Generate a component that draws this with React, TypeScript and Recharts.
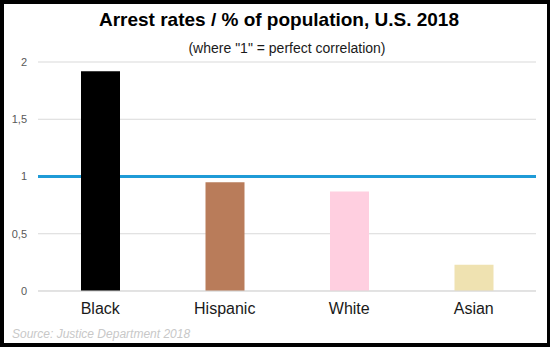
import { Bar, BarChart, CartesianGrid, Cell, ReferenceLine, XAxis, YAxis } from "recharts";

const groups = ["Black", "Hispanic", "White", "Asian"];
const ratios = [1.92, 0.95, 0.87, 0.23];
const barColors = ["#000000", "#b97c5a", "#ffcfe0", "#efe2b1"];
const yTicks = [0, 0.5, 1, 1.5, 2];

const rows = groups.map((group, i) => ({ group, ratio: ratios[i] }));

const font = '"Liberation Sans", Arial, sans-serif';

const commaDecimal = (v: number) => String(v).replace(".", ",");

export default function App() {
  return (
    <div style={{ position: "absolute", top: 0, left: 0, width: 550, height: 347, background: "#fff", fontFamily: font }}>
      <div
        style={{
          position: "absolute",
          top: 8,
          left: 0,
          width: 558,
          textAlign: "center",
          fontSize: 19,
          fontWeight: "bold",
          color: "#000",
          lineHeight: "24px"
        }}
      >
        Arrest rates / % of population, U.S. 2018
      </div>
      <div
        style={{
          position: "absolute",
          top: 38,
          left: 0,
          width: 574,
          textAlign: "center",
          fontSize: 14,
          color: "#1a1a1a",
          lineHeight: "20px"
        }}
      >
        (where "1" = perfect correlation)
      </div>
      <BarChart
        width={550}
        height={347}
        data={rows}
        margin={{ top: 62, right: 14, bottom: 0, left: 8 }}
        style={{ position: "absolute", top: 0, left: 0 }}
      >
        <CartesianGrid vertical={false} stroke="#d9d9d9" />
        <XAxis
          dataKey="group"
          height={56}
          tickLine={false}
          axisLine={{ stroke: "#d9d9d9" }}
          tickMargin={6}
          tick={{ fontSize: 16, fill: "#1a1a1a", fontFamily: font }}
        />
        <YAxis
          domain={[0, 2]}
          ticks={yTicks}
          width={30}
          axisLine={false}
          tickLine={false}
          tickMargin={5}
          tickFormatter={commaDecimal}
          tick={{ fontSize: 11, fill: "#595959", fontFamily: font }}
        />
        {/* line sits behind the bars, as in the original */}
        <ReferenceLine y={1} stroke="#1f9bd7" strokeWidth={3} zIndex={0} />
        <Bar dataKey="ratio" barSize={39} isAnimationActive={false}>
          {rows.map((row, i) => (
            <Cell key={row.group} fill={barColors[i]} />
          ))}
        </Bar>
      </BarChart>
      <div
        style={{
          position: "absolute",
          top: 327,
          left: 12,
          fontSize: 12,
          fontStyle: "italic",
          color: "#c8c8c8",
          lineHeight: "14px"
        }}
      >
        Source: Justice Department 2018
      </div>
      <div
        style={{
          position: "absolute",
          top: 0,
          left: 0,
          width: 550,
          height: 347,
          boxSizing: "border-box",
          borderStyle: "solid",
          borderColor: "#000",
          borderWidth: "4px 3px 4px 4px",
          pointerEvents: "none"
        }}
      />
    </div>
  );
}
